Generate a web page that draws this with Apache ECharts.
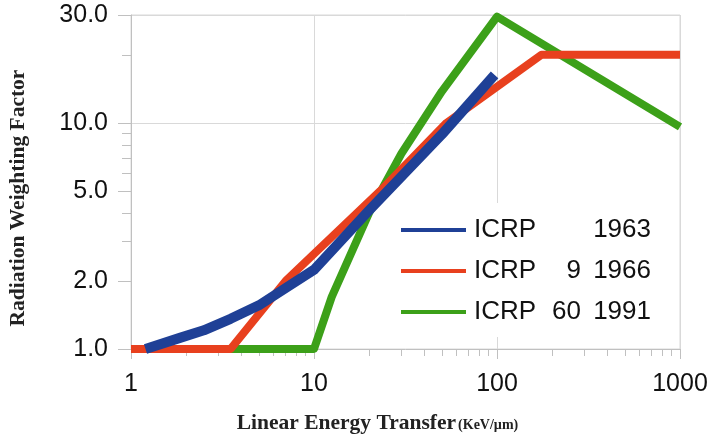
<!DOCTYPE html>
<html>
<head>
<meta charset="utf-8">
<script src="https://cdn.jsdelivr.net/npm/echarts@6/dist/echarts.min.js"></script>
<style>
  html, body { margin: 0; padding: 0; background: #ffffff; }
  #chart { width: 712px; height: 438px; }
</style>
</head>
<body>
<div id="chart"></div>
<script>
// Radiation weighting factor versus LET (keV/µm) for three ICRP recommendations
const let1963 = [1.2, 1.85, 2.5, 3.5, 5, 6.5, 10, 20, 50, 97];
const wf1963  = [1.0, 1.12, 1.21, 1.36, 1.56, 1.79, 2.24, 4.1, 8.9, 16.3];

const let1966 = [1, 3.5, 7, 23, 53, 175, 1000];
const wf1966  = [1, 1, 2, 5, 10, 20, 20];

const let1991 = [1, 10, 12.5, 20, 30, 50, 100, 1000];
const wf1991  = [1, 1, 1.7, 4.0, 7.3, 13.8, 29.5, 9.6];

const seriesNames  = ['ICRP 1963', 'ICRP 9 1966', 'ICRP 60 1991'];
const seriesColors = ['#1f4096', '#e8401e', '#3ca019'];

// Tick positions (real values; both axes are logarithmic)
const xMajorTicks = [1, 10, 100, 1000];
const xMinorTicks = [2, 3, 4, 5, 6, 7, 8, 9, 20, 30, 40, 50, 60, 70, 80, 90,
                     200, 300, 400, 500, 600, 700, 800, 900];
const yMajorTicks = [1, 2, 5, 10, 30];
const yMinorTicks = [3, 4, 6, 7, 8, 9, 20];
const yGridLines  = [10, 30];
const xRange = [1, 1000];
const yRange = [1, 30];

const lg = Math.log10;
const toPairs = (xs, ys) => xs.map((x, i) => [lg(x), lg(ys[i])]);

const gridGray = '#d9d9d9';
const axisGray = '#c0c0c0';
const sansFont = '"Liberation Sans", Arial, sans-serif';
const serifFont = '"Liberation Serif", "Times New Roman", serif';

const xMin = lg(xRange[0]), xMax = lg(xRange[1]);
const yMin = lg(yRange[0]), yMax = lg(yRange[1]);

const chart = echarts.init(document.getElementById('chart'), null, { renderer: 'canvas' });

const lineSeries = (name, xs, ys, color, width, z) => ({
  name: name,
  type: 'line',
  xAxisIndex: 0,
  yAxisIndex: 0,
  data: toPairs(xs, ys),
  showSymbol: false,
  symbol: 'none',
  clip: false,
  z: z,
  lineStyle: { color: color, width: width, cap: 'butt', join: 'round' },
  itemStyle: { color: color }
});

const legendText = { fontFamily: sansFont, fontSize: 26, lineHeight: 28, color: '#111111' };

chart.setOption({
  animation: false,
  backgroundColor: '#ffffff',
  grid: {
    left: 131, right: 32, top: 15, bottom: 89,
    show: true, borderColor: gridGray, borderWidth: 1,
    outerBoundsMode: 'none'
  },
  legend: {
    orient: 'vertical',
    left: 390,
    top: 203,
    padding: [13, 14, 11, 11],
    backgroundColor: '#ffffff',
    icon: 'rect',
    itemWidth: 65,
    itemHeight: 4,
    itemGap: 13,
    data: seriesNames,
    formatter: function (name) {
      const parts = name.split(' ');
      const num = parts.length === 3 ? parts[1] : '';
      const year = parts[parts.length - 1];
      return '{a|' + parts[0] + '}{b|' + num + '}{c|' + year + '}';
    },
    textStyle: Object.assign({}, legendText, {
      rich: {
        a: Object.assign({}, legendText, { width: 76, padding: [0, 0, 0, 3] }),
        b: Object.assign({}, legendText, { width: 31, align: 'right' }),
        c: Object.assign({}, legendText, { width: 70, align: 'right' })
      }
    })
  },
  xAxis: [
    {
      type: 'value',
      min: xMin, max: xMax,
      position: 'bottom',
      name: '{t|Linear Energy Transfer}{u|(KeV/µm)}',
      nameLocation: 'middle',
      nameGap: 62,
      nameTextStyle: {
        padding: [0, 56, 0, 0],
        rich: {
          t: { fontFamily: serifFont, fontWeight: 'bold', fontSize: 21.5, lineHeight: 24, color: '#222222' },
          u: { fontFamily: serifFont, fontWeight: 'bold', fontSize: 14, color: '#222222',
               verticalAlign: 'bottom', padding: [0, 0, 3, 2] }
        }
      },
      axisLine: { show: true, lineStyle: { color: axisGray, width: 1 } },
      axisTick: { show: true, length: 10, customValues: xMajorTicks.map(lg),
                  lineStyle: { color: axisGray } },
      axisLabel: {
        customValues: xMajorTicks.map(lg),
        margin: 23,
        fontFamily: sansFont, fontSize: 25, color: '#111111',
        formatter: v => String(Math.round(Math.pow(10, v)))
      },
      splitLine: { show: true, lineStyle: { color: gridGray, width: 1 } }
    },
    {
      type: 'value',
      min: xMin, max: xMax,
      position: 'bottom',
      axisLine: { show: false },
      axisTick: { show: true, length: 7, customValues: xMinorTicks.map(lg),
                  lineStyle: { color: axisGray } },
      axisLabel: { show: false },
      splitLine: { show: false }
    }
  ],
  yAxis: [
    {
      type: 'value',
      min: yMin, max: yMax,
      position: 'left',
      name: 'Radiation Weighting Factor',
      nameLocation: 'middle',
      nameGap: 102,
      nameRotate: 90,
      nameTextStyle: {
        fontFamily: serifFont, fontWeight: 'bold', fontSize: 21.5, color: '#222222',
        padding: [0, 32, 0, 0]
      },
      axisLine: { show: true, lineStyle: { color: axisGray, width: 1 } },
      axisTick: { show: true, length: 13, customValues: yMajorTicks.map(lg),
                  lineStyle: { color: axisGray } },
      axisLabel: {
        customValues: yMajorTicks.map(lg),
        margin: 23,
        fontFamily: sansFont, fontSize: 25, color: '#111111',
        formatter: v => Math.pow(10, v).toFixed(1)
      },
      splitLine: { show: false }
    },
    {
      type: 'value',
      min: yMin, max: yMax,
      position: 'left',
      axisLine: { show: false },
      axisTick: { show: true, length: 9, customValues: yMinorTicks.map(lg),
                  lineStyle: { color: axisGray } },
      axisLabel: { show: false },
      splitLine: { show: false }
    },
    {
      type: 'value',
      min: yMin, max: yMax,
      position: 'left',
      axisLine: { show: false },
      axisTick: { show: false, customValues: yGridLines.map(lg) },
      axisLabel: { show: false },
      splitLine: { show: true, lineStyle: { color: gridGray, width: 1 } }
    }
  ],
  series: [
    lineSeries(seriesNames[0], let1963, wf1963, seriesColors[0], 10, 4),
    lineSeries(seriesNames[1], let1966, wf1966, seriesColors[1], 8, 3),
    lineSeries(seriesNames[2], let1991, wf1991, seriesColors[2], 8, 2)
  ]
});
</script>
</body>
</html>
